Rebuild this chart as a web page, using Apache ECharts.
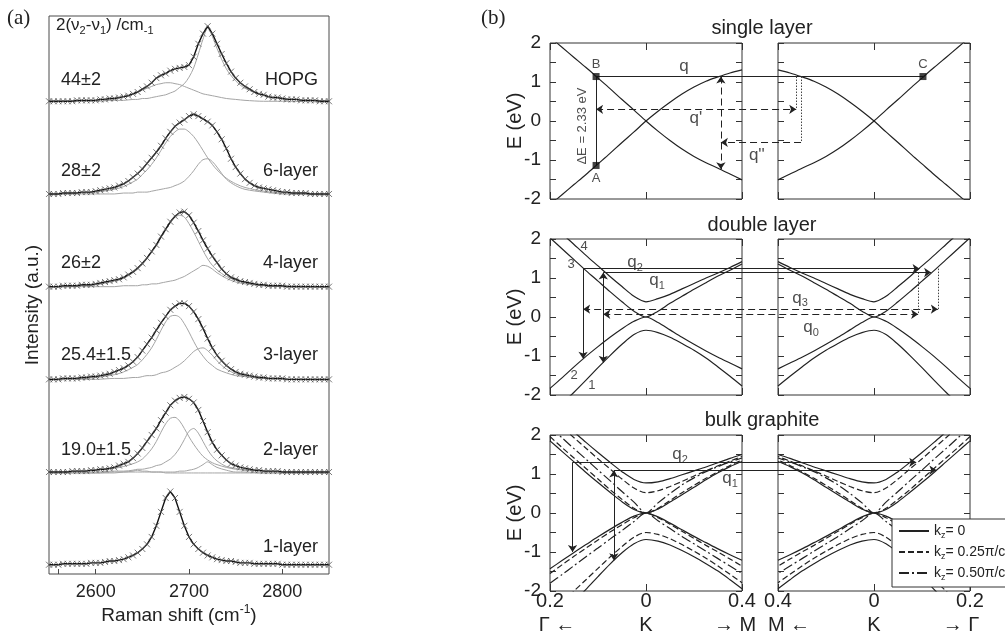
<!DOCTYPE html>
<html><head><meta charset="utf-8">
<script src="https://cdn.jsdelivr.net/npm/echarts@6/dist/echarts.min.js"></script>
<style>html,body{margin:0;padding:0;background:#fff}#c{width:1005px;height:643px}</style>
</head><body><div id="c"></div>
<script>
// ================= DATA (panel a) =================
const ramanX = [2550,2555,2560,2565,2570,2575,2580,2585,2590,2595,
2600,2605,2610,2615,2620,2625,2630,2635,2640,2645,
2650,2655,2660,2665,2670,2675,2680,2685,2690,2695,
2700,2705,2710,2715,2720,2725,2730,2735,2740,2745,
2750,2755,2760,2765,2770,2775,2780,2785,2790,2795,
2800,2805,2810,2815,2820,2825,2830,2835,2840,2845,2850];
const layer1 = [.01,.01,.01,.02,.02,.02,.02,.02,.02,.03,
.03,.03,.04,.05,.05,.06,.07,.09,.11,.14,
.18,.23,.31,.43,.58,.73,.80,.73,.58,.43,
.31,.23,.18,.14,.11,.09,.07,.06,.05,.05,
.04,.03,.03,.03,.02,.02,.02,.02,.02,.02,
.01,.01,.01,.01,.01,.01,.01,.01,.01,.01,.01];
const layer2 = [.01,.01,.01,.01,.01,.02,.02,.02,.02,.03,
.03,.04,.04,.05,.06,.08,.10,.12,.16,.21,
.27,.34,.41,.48,.57,.65,.73,.78,.81,.82,
.80,.76,.68,.56,.44,.33,.25,.19,.14,.10,
.08,.06,.05,.04,.03,.03,.02,.02,.02,.02,
.01,.01,.01,.01,.01,.01,.01,.01,.01,.01,.01];
const layer3 = [.01,.01,.01,.02,.02,.02,.02,.03,.03,.04,
.04,.05,.06,.07,.09,.11,.13,.16,.20,.25,
.32,.39,.46,.54,.62,.69,.76,.80,.83,.83,
.80,.74,.66,.56,.45,.35,.27,.21,.16,.12,
.09,.07,.06,.05,.04,.03,.03,.02,.02,.02,
.02,.01,.01,.01,.01,.01,.01,.01,.01,.01,.01];
const layer4 = [.01,.01,.01,.02,.02,.02,.02,.03,.03,.03,
.04,.05,.06,.07,.08,.09,.11,.14,.17,.21,
.26,.32,.39,.46,.55,.63,.71,.77,.81,.82,
.78,.70,.61,.51,.42,.34,.27,.20,.15,.11,
.09,.07,.06,.05,.04,.03,.03,.02,.02,.02,
.02,.01,.01,.01,.01,.01,.01,.01,.01,.01,.01];
const layer6 = [.01,.01,.01,.02,.02,.02,.02,.03,.03,.03,
.04,.05,.06,.07,.08,.10,.12,.15,.19,.23,
.28,.34,.40,.46,.53,.61,.68,.74,.78,.81,
.85,.87,.85,.82,.79,.75,.68,.60,.50,.39,
.30,.23,.17,.13,.10,.08,.07,.06,.05,.04,
.03,.03,.02,.02,.02,.02,.01,.01,.01,.01,.01];
const layerHOPG = [.01,.01,.01,.01,.01,.01,.02,.02,.02,.02,
.02,.03,.03,.04,.04,.05,.06,.07,.09,.11,
.14,.17,.21,.26,.29,.31,.34,.36,.37,.38,
.40,.49,.63,.74,.82,.74,.63,.52,.42,.33,
.26,.21,.17,.14,.11,.09,.08,.06,.05,.05,
.04,.03,.03,.03,.02,.02,.02,.02,.01,.01,.01];
// fitted components (coarser Raman grid)
const compX = [2550,2580,2600,2620,2630,2640,2645,2650,2655,2660,2665,2670,2675,2680,2685,2690,2695,2700,2705,2710,2715,2720,2725,2730,2740,2750,2760,2780,2800,2850];
const c2a = [.01,.02,.03,.05,.07,.10,.12,.15,.20,.26,.34,.44,.53,.59,.60,.56,.48,.39,.31,.24,.18,.14,.11,.09,.06,.04,.03,.02,.01,.01];
const c2b = [0,.01,.01,.02,.02,.03,.04,.04,.05,.06,.08,.09,.12,.15,.20,.27,.36,.45,.48,.43,.34,.25,.18,.13,.07,.05,.03,.02,.01,0];
const c2c = [0,0,0,.01,.01,.02,.03,.02,.02,.01,.01,.01,0,0,0,0,0,0,0,0,0,0,0,0,0,0,0,0,0,0];
const c2d = [0,0,0,0,.01,.01,.01,.01,.01,.01,.01,.01,.01,.01,.01,.02,.02,.03,.04,.06,.09,.12,.09,.06,.03,.01,.01,0,0,0];
const c3a = [.01,.02,.03,.06,.09,.14,.17,.22,.28,.35,.44,.54,.63,.69,.70,.68,.61,.52,.42,.33,.26,.20,.16,.12,.08,.05,.04,.02,.01,.01];
const c3b = [0,.01,.01,.02,.02,.03,.03,.04,.05,.05,.06,.08,.09,.11,.14,.17,.21,.26,.31,.34,.35,.32,.27,.21,.12,.07,.04,.02,.01,0];
const c4a = [.01,.02,.03,.07,.10,.16,.20,.25,.31,.38,.45,.54,.62,.70,.76,.78,.76,.69,.60,.50,.40,.31,.24,.19,.12,.08,.05,.03,.02,.01];
const c4b = [0,.01,.01,.01,.02,.02,.02,.03,.03,.04,.04,.05,.06,.07,.08,.10,.12,.15,.18,.21,.24,.23,.20,.16,.10,.06,.04,.02,.01,0];
const c6a = [.01,.02,.03,.06,.09,.14,.17,.22,.27,.33,.40,.48,.56,.63,.68,.71,.71,.68,.63,.56,.48,.40,.33,.27,.18,.12,.08,.04,.02,.01];
const c6b = [0,.01,.01,.01,.02,.02,.03,.03,.03,.04,.05,.06,.07,.08,.10,.12,.15,.20,.26,.33,.38,.39,.36,.30,.17,.10,.06,.03,.01,0];
const cHa = [.01,.01,.02,.04,.06,.09,.11,.13,.15,.17,.19,.20,.21,.21,.20,.19,.17,.15,.13,.11,.09,.08,.07,.06,.04,.03,.02,.01,.01,0];
const cHb = [0,.01,.01,.02,.02,.03,.03,.04,.04,.05,.06,.07,.08,.10,.12,.16,.20,.27,.37,.52,.68,.80,.71,.58,.36,.23,.15,.07,.04,.01];
const ramanTicks = [2560,2600,2700,2800];
const ramanLabels = [2600,2700,2800];
const layerNames = ['1-layer','2-layer','3-layer','4-layer','6-layer','HOPG'];
const widthTexts = ['','19.0±1.5','25.4±1.5','26±2','28±2','44±2'];

// ================= DATA (panel b) =================
const kGrid = [-0.2,-0.175,-0.15,-0.125,-0.1,-0.075,-0.05,-0.025,0,0.025,0.05,0.075,0.1,0.125,0.15,0.175,0.2];
// single layer
const sl1 = [2.15,1.89,1.63,1.37,1.10,0.83,0.55,0.28,0,-0.26,-0.50,-0.72,-0.91,-1.07,-1.21,-1.36,-1.51];
const sl2 = [-2.15,-1.89,-1.63,-1.37,-1.10,-0.83,-0.55,-0.28,0,0.25,0.48,0.69,0.87,1.02,1.13,1.23,1.31];
// double layer
const dl1 = [2.03,1.75,1.47,1.19,0.92,0.65,0.39,0.15,0,0.15,0.35,0.53,0.71,0.88,1.05,1.20,1.36];
const dl2 = [2.41,2.14,1.86,1.58,1.31,1.04,0.78,0.53,0.39,0.47,0.58,0.72,0.86,1.00,1.13,1.27,1.42];
const dl3 = [-1.83,-1.56,-1.28,-1.01,-0.76,-0.52,-0.30,-0.11,0,-0.14,-0.33,-0.52,-0.70,-0.87,-1.03,-1.18,-1.33];
const dl4 = [-2.50,-2.22,-1.93,-1.62,-1.30,-0.99,-0.70,-0.45,-0.34,-0.40,-0.52,-0.68,-0.85,-1.05,-1.28,-1.52,-1.77];
// bulk graphite (kz = 0, 0.25pi/c, 0.50pi/c)
const bu0a = [1.85,1.58,1.31,1.04,0.78,0.53,0.29,0.09,0,0.10,0.28,0.47,0.66,0.85,1.03,1.19,1.32];
const bu0b = [2.62,2.35,2.08,1.81,1.55,1.30,1.06,0.86,0.77,0.80,0.88,0.98,1.08,1.18,1.29,1.40,1.50];
const bu25a = [1.96,1.68,1.41,1.14,0.87,0.60,0.35,0.12,0,0.12,0.32,0.52,0.71,0.89,1.06,1.22,1.36];
const bu25b = [2.48,2.20,1.93,1.66,1.39,1.13,0.87,0.64,0.52,0.57,0.68,0.81,0.95,1.08,1.21,1.33,1.45];
const bu5 = [2.20,1.93,1.65,1.38,1.10,0.83,0.55,0.28,0,0.26,0.50,0.72,0.90,1.06,1.19,1.31,1.41];
const bl0a = [-1.43,-1.22,-1.01,-0.81,-0.61,-0.42,-0.24,-0.08,0,-0.10,-0.26,-0.43,-0.60,-0.76,-0.92,-1.07,-1.21];
const bl0b = [-2.90,-2.58,-2.27,-1.96,-1.63,-1.31,-1.02,-0.79,-0.68,-0.72,-0.82,-0.96,-1.12,-1.30,-1.49,-1.71,-1.94];
const bl25a = [-1.55,-1.33,-1.11,-0.90,-0.69,-0.49,-0.30,-0.12,0,-0.12,-0.29,-0.47,-0.65,-0.83,-1.00,-1.18,-1.36];
const bl25b = [-2.60,-2.30,-2.00,-1.71,-1.42,-1.13,-0.86,-0.62,-0.50,-0.55,-0.66,-0.81,-0.98,-1.16,-1.36,-1.57,-1.79];
const bl5 = [-1.80,-1.58,-1.35,-1.12,-0.90,-0.67,-0.45,-0.22,0,-0.20,-0.40,-0.60,-0.79,-0.98,-1.17,-1.36,-1.55];

// annotations: points are [panel, k, E]
const slSquares = [['L',-0.104,1.14],['L',-0.104,-1.14],['R',0.102,1.14]];
const slSolid = [[['L',-0.104,-1.14],['L',-0.104,1.14]],[['L',-0.104,1.14],['R',0.102,1.14]]];
const slDashedBoth = [[['L',-0.104,0.30],['R',-0.162,0.30]],[['L',0.156,1.14],['L',0.156,-1.24]]];
const slDashedEnd = [[['R',-0.152,-0.55],['L',0.156,-0.55]]];
const slDotted = [[['R',-0.162,1.14],['R',-0.162,0.30]],[['R',-0.152,1.14],['R',-0.152,-0.55]]];
const slLabels = [['L',-0.104,1.45,'{m|B}'],['L',-0.104,-1.47,'{m|A}'],['R',0.102,1.45,'{m|C}'],
  ['L',0.079,1.40,'{q|q}'],['L',0.104,0.07,"{q|q'}"],['L',0.231,-0.87,"{q|q''}"],['L',-0.133,-0.13,'{m|ΔE = 2.33 eV}',90]];

const dlSolidEnd = [[['L',-0.131,1.24],['L',-0.131,-1.07]],[['L',-0.131,1.24],['R',0.095,1.24]],[['L',-0.089,1.14],['R',0.119,1.14]]];
const dlSolidBoth = [[['L',-0.089,-1.17],['L',-0.089,1.14]]];
const dlDashedBoth = [[['L',-0.131,0.20],['R',0.133,0.20]],[['L',-0.089,0.07],['R',0.092,0.07]]];
const dlDotted = [[['R',0.133,1.24],['R',0.133,0.20]],[['R',0.092,1.14],['R',0.092,0.07]]];
const dlLabels = [['L',-0.023,1.40,'{q|q}{s|2}'],['L',0.023,0.94,'{q|q}{s|1}'],['R',-0.154,0.49,'{q|q}{s|3}'],['R',-0.131,-0.27,'{q|q}{s|0}'],
  ['L',-0.129,1.80,'{m|4}'],['L',-0.156,1.34,'{m|3}'],['L',-0.150,-1.51,'{m|2}'],['L',-0.113,-1.76,'{m|1}']];

const bgSolidEnd = [[['L',-0.153,1.30],['L',-0.153,-1.00]],[['L',-0.153,1.30],['R',0.088,1.30]],[['L',-0.067,1.10],['R',0.130,1.10]]];
const bgSolidBoth = [[['L',-0.067,-1.21],['L',-0.067,1.09]]];
const bgLabels = [['L',0.071,1.50,'{q|q}{s|2}'],['L',0.175,0.88,'{q|q}{s|1}']];

// ================= BUILD =================
const FONT = '"Liberation Sans", Arial, Helvetica, sans-serif';
const SERIF = '"Liberation Serif", "Times New Roman", serif';
const INK = '#222';
const grid = [], xAxis = [], yAxis = [], series = [];

// ---- panel (a) ----
grid.push({left:49, top:16, width:280, height:558, show:true, borderColor:'#4a4a4a', borderWidth:1});
xAxis.push({type:'value', gridIndex:0, min:2550, max:2850, position:'bottom',
  axisLine:{show:false, onZero:false}, splitLine:{show:false},
  axisTick:{show:true, inside:true, length:5, customValues:ramanTicks, lineStyle:{color:'#4a4a4a'}},
  axisLabel:{show:true, customValues:ramanLabels, formatter:v=>String(v), fontSize:18, color:INK, margin:9, fontFamily:FONT}});
yAxis.push({type:'value', gridIndex:0, min:-0.09, max:5.93, show:false, axisLine:{onZero:false}});

const layers = [layer1, layer2, layer3, layer4, layer6, layerHOPG];
const comps = [[], [c2a,c2b,c2c,c2d], [c3a,c3b], [c4a,c4b], [c6a,c6b], [cHa,cHb]];
layers.forEach((arr, i) => {
  comps[i].forEach(c => series.push({type:'line', xAxisIndex:0, yAxisIndex:0,
    data: compX.map((x,j)=>[x, c[j]+i]), showSymbol:false, symbol:'none', smooth:0.3,
    lineStyle:{color:'#a5a5a5', width:1}, silent:true, z:2}));
  series.push({type:'line', xAxisIndex:0, yAxisIndex:0,
    data: ramanX.map((x,j)=>[x, arr[j]+i]),
    symbol:'path://M0,0L10,10M10,0L0,10', symbolSize:6, showSymbol:true, showAllSymbol:true,
    itemStyle:{color:'rgba(0,0,0,0)', borderColor:'#555', borderWidth:0.8},
    lineStyle:{color:'#111', width:1.4}, silent:true, z:3});
});

// ---- panel (b) ----
const rowTops = [43, 239, 435];
const BOXW = 192, BOXH = 156, LEFTX = 550, RIGHTX = 778;
const tickStyle = {color:'#333', width:1};
function fmtL(v){ if (Math.abs(v+0.2)<1e-6) return '{n|0.2}\n{sl|Γ ←}'; if (Math.abs(v)<1e-6) return '{n|0}\n{s|K}'; return '{n|0.4}\n{sr|→ M}'; }
function fmtR(v){ if (Math.abs(v+0.2)<1e-6) return '{n|0.4}\n{sl2|M ←}'; if (Math.abs(v)<1e-6) return '{n|0}\n{s|K}'; return '{n|0.2}\n{sr2|→ Γ}'; }
function addBox(left, top, showY, fmt) {
  const gi = grid.length;
  grid.push({left, top, width:BOXW, height:BOXH, show:true, borderColor:'#333', borderWidth:1});
  const xi = xAxis.length, yi = yAxis.length;
  const sBase = {fontSize:20, lineHeight:30, fontFamily:FONT, color:INK};
  const xl = fmt ? {show:true, formatter:fmt, margin:1, showMinLabel:true, showMaxLabel:true, fontFamily:FONT, color:INK,
      rich:{n:{fontSize:20, lineHeight:18, fontFamily:FONT, color:INK},
            s:sBase,
            sl:Object.assign({}, sBase, {padding:[0,0,0,14]}),
            sr:Object.assign({}, sBase, {padding:[0,14,0,0]}),
            sl2:Object.assign({}, sBase, {padding:[0,0,0,22]}),
            sr2:Object.assign({}, sBase, {padding:[0,18,0,0]})}} : {show:false};
  xAxis.push({type:'value', gridIndex:gi, min:-0.2, max:0.2, interval:0.2, position:'bottom',
    axisLine:{show:false, onZero:false}, splitLine:{show:false}, axisTick:{show:true, inside:true, length:7, lineStyle:tickStyle}, axisLabel:xl});
  xAxis.push({type:'value', gridIndex:gi, min:-0.2, max:0.2, interval:0.2, position:'top',
    axisLine:{show:false, onZero:false}, splitLine:{show:false}, axisTick:{show:true, inside:true, length:7, lineStyle:tickStyle}, axisLabel:{show:false}});
  const yl = showY ? {show:true, fontSize:19, color:INK, margin:9, fontFamily:FONT} : {show:false};
  ['left','right'].forEach((pos, p) => yAxis.push({type:'value', gridIndex:gi, min:-2, max:2, interval:1, position:pos,
    axisLine:{show:false, onZero:false}, splitLine:{show:false},
    axisTick:{show:true, inside:true, length:6, lineStyle:tickStyle},
    minorTick:{show:true, splitNumber:2, length:6, lineStyle:tickStyle},
    axisLabel: p===0 ? yl : {show:false}}));
  return {x:xi, y:yi};
}
function addOverlay(top) {
  const gi = grid.length;
  grid.push({left:LEFTX, top, width:420, height:BOXH, show:false});
  xAxis.push({type:'value', gridIndex:gi, min:-0.2, max:0.675, show:false, axisLine:{onZero:false}});
  yAxis.push({type:'value', gridIndex:gi, min:-2, max:2, show:false, axisLine:{onZero:false}});
  return {x:xAxis.length-1, y:yAxis.length-1};
}
const RSHIFT = 0.475; // right box K position on the overlay axis
const U = p => [p[0]==='R' ? p[1]+RSHIFT : p[1], p[2]];
const SOLID = 'solid', DASH = [6,3], DASHDOT = [10,3,2,3];
function band(box, arr, type, mirror, name) {
  const s = {type:'line', xAxisIndex:box.x, yAxisIndex:box.y,
    data: kGrid.map((k,j)=>[mirror ? -k : k, arr[j]]),
    showSymbol:false, symbol:'none', smooth:0.3,
    lineStyle:{color:INK, width:1.2, type}, itemStyle:{color:INK}, silent:true, z:3};
  if (name) s.name = name;
  series.push(s);
}
function segs(ov, list, type, sym, color) {
  series.push({type:'lines', coordinateSystem:'cartesian2d', xAxisIndex:ov.x, yAxisIndex:ov.y,
    symbol:sym, symbolSize:7, silent:true, z:6,
    lineStyle:{color:color||INK, width:1, type, opacity:1, curveness:0},
    data: list.map(s=>({coords:[U(s[0]), U(s[1])]}))});
}
const richLab = {
  q:{fontSize:17, lineHeight:22, fontFamily:FONT, color:INK},
  s:{fontSize:11, lineHeight:10, verticalAlign:'bottom', fontFamily:FONT, color:INK},
  m:{fontSize:13, lineHeight:16, fontFamily:FONT, color:INK}
};
function labels(ov, list) {
  series.push({type:'scatter', xAxisIndex:ov.x, yAxisIndex:ov.y, symbolSize:1, silent:true, z:7,
    itemStyle:{color:'rgba(0,0,0,0)'},
    label:{show:true, position:'inside', formatter:p=>p.name, color:INK, fontFamily:FONT, rich:richLab},
    data: list.map(a=>({value:U(a), name:a[3], label:{rotate:a[4]||0}}))});
}
function squares(ov, list) {
  series.push({type:'scatter', xAxisIndex:ov.x, yAxisIndex:ov.y, symbol:'rect', symbolSize:7, silent:true, z:8,
    itemStyle:{color:'#111'}, data: list.map(U)});
}

// row 1: single layer
{
  const L = addBox(LEFTX, rowTops[0], true, null), R = addBox(RIGHTX, rowTops[0], false, null), O = addOverlay(rowTops[0]);
  [sl1, sl2].forEach(a => { band(L, a, SOLID, false); band(R, a, SOLID, true); });
  segs(O, slSolid, 'solid', ['none','none']);
  segs(O, slDashedBoth, [7,4], ['arrow','arrow']);
  segs(O, slDashedEnd, [7,4], ['none','arrow']);
  segs(O, slDotted, [1.5,1.5], ['none','none'], '#444');
  squares(O, slSquares);
  labels(O, slLabels);
}
// row 2: double layer
{
  const L = addBox(LEFTX, rowTops[1], true, null), R = addBox(RIGHTX, rowTops[1], false, null), O = addOverlay(rowTops[1]);
  [dl1, dl2, dl3, dl4].forEach(a => { band(L, a, SOLID, false); band(R, a, SOLID, true); });
  segs(O, dlSolidEnd, 'solid', ['none','arrow']);
  segs(O, dlSolidBoth, 'solid', ['arrow','arrow']);
  segs(O, dlDashedBoth, [7,4], ['arrow','arrow']);
  segs(O, dlDotted, [1.5,1.5], ['none','none'], '#444');
  labels(O, dlLabels);
}
// row 3: bulk graphite
{
  const L = addBox(LEFTX, rowTops[2], true, fmtL), R = addBox(RIGHTX, rowTops[2], false, fmtR), O = addOverlay(rowTops[2]);
  const sets = [[bu0a,SOLID,'kz0'],[bu0b,SOLID,'kz0'],[bl0a,SOLID,'kz0'],[bl0b,SOLID,'kz0'],
                [bu25a,DASH,'kz25'],[bu25b,DASH,'kz25'],[bl25a,DASH,'kz25'],[bl25b,DASH,'kz25'],
                [bu5,DASHDOT,'kz5'],[bl5,DASHDOT,'kz5']];
  sets.forEach(([a,t,n]) => { band(L, a, t, false, n); band(R, a, t, true, n); });
  segs(O, bgSolidEnd, 'solid', ['none','arrow']);
  segs(O, bgSolidBoth, 'solid', ['arrow','arrow']);
  labels(O, bgLabels);
}

// ---- static texts ----
function T(x, y, text, size, opt) {
  opt = opt || {};
  return {type:'text', x, y, rotation: opt.rot || 0, silent:true, z:100,
    style:{text, fontSize:size, fontFamily:opt.font||FONT, fill:INK, align:opt.align||'left', verticalAlign:'middle', rich:opt.rich}};
}
const supRich = {
  b:{fontSize:19, lineHeight:24, fontFamily:FONT, color:INK},
  p:{fontSize:12, lineHeight:12, verticalAlign:'top', fontFamily:FONT, color:INK}
};
const nuRich = {
  b:{fontSize:17, lineHeight:22, fontFamily:FONT, color:INK},
  d:{fontSize:11, lineHeight:11, verticalAlign:'bottom', fontFamily:FONT, color:INK}
};
const layerY = [547, 450, 355, 263, 171, 80];
const graphic = [
  T(7, 18, '(a)', 21, {font:SERIF}),
  T(481, 18, '(b)', 21, {font:SERIF}),
  T(56, 25, '{b|2(ν}{d|2}{b|-ν}{d|1}{b|) /cm}{d|-1}', 17, {rich:nuRich}),
  T(33, 305, 'Intensity (a.u.)', 19, {rot:Math.PI/2, align:'center'}),
  T(179, 616, '{b|Raman shift (cm}{p|-1}{b|)}', 19, {align:'center', rich:supRich}),
  T(762, 28, 'single layer', 20, {align:'center'}),
  T(762, 225, 'double layer', 20, {align:'center'}),
  T(762, 420, 'bulk graphite', 20, {align:'center'})
];
rowTops.forEach(t => graphic.push(T(515, t + BOXH/2, 'E (eV)', 20, {rot:Math.PI/2, align:'center'})));
layerNames.forEach((n,i) => {
  graphic.push(T(318, layerY[i], n, 18, {align:'right'}));
  if (widthTexts[i]) graphic.push(T(61, layerY[i], widthTexts[i], 18));
});

const legendRich = {
  a:{fontSize:14, lineHeight:18, fontFamily:FONT, color:INK},
  z:{fontSize:9, lineHeight:9, verticalAlign:'bottom', fontFamily:FONT, color:INK}
};
const legendText = {kz0:'{a|k}{z|z}{a|= 0}', kz25:'{a|k}{z|z}{a|= 0.25π/c}', kz5:'{a|k}{z|z}{a|= 0.50π/c}'};

const option = {
  animation:false,
  backgroundColor:'#fff',
  textStyle:{fontFamily:FONT},
  grid, xAxis, yAxis, series, graphic,
  legend:{data:['kz0','kz25','kz5'], orient:'vertical', left:892, top:519, selectedMode:false,
    backgroundColor:'#fff', borderColor:'#333', borderWidth:1, borderRadius:0, padding:[5,10,5,6],
    itemGap:5, itemWidth:30, itemHeight:12, z:50,
    itemStyle:{color:'rgba(0,0,0,0)', borderWidth:0, opacity:0},
    formatter:n=>legendText[n], textStyle:{fontSize:14, color:INK, fontFamily:FONT, rich:legendRich}}
};
const chart = echarts.init(document.getElementById('c'));
chart.setOption(option);
</script>
</body></html>
